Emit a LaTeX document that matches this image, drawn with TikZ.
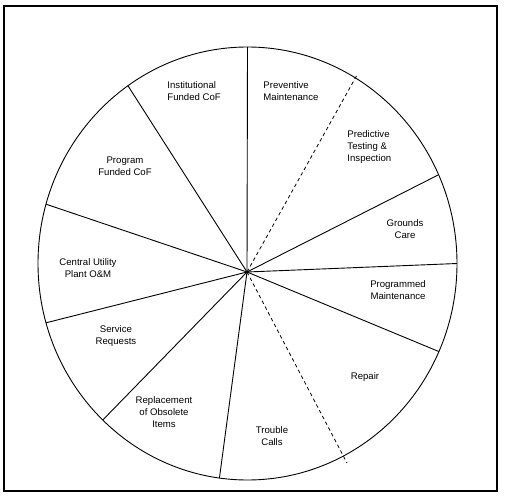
\documentclass[tikz,border=0pt]{standalone}
\usepackage{fontspec}
\setmainfont{Liberation Sans}
\usetikzlibrary{calc}
\begin{document}
\begin{tikzpicture}[x=1pt,y=1pt,
  line width=0.9pt,
  lbl/.style={font=\fontsize{9.6}{12}\selectfont, inner sep=0pt, align=center},
  lbll/.style={font=\fontsize{9.6}{12}\selectfont, inner sep=0pt, align=left, anchor=west},
  spoke/.style={line width=0.9pt},
  dspoke/.style={line width=0.8pt, dash pattern=on 3.5pt off 3pt}]
\useasboundingbox (0,0) rectangle (508,501);
\draw[line width=1.2pt] (4,10) rectangle (497,495);
\coordinate (E) at (247.5,237.5);
\coordinate (O) at (247,229);
\draw (E) ellipse [x radius=209.5, y radius=216.5];
\coordinate (p1) at ($(E)+(90:209.5 and 216.5)$);
\coordinate (p3) at ($(E)+(24.2:209.5 and 216.5)$);
\coordinate (p4) at ($(E)+(0:209.5 and 216.5)$);
\coordinate (p5) at ($(E)+(-24:209.5 and 216.5)$);
\coordinate (p7) at ($(E)+(262.3:209.5 and 216.5)$);
\coordinate (p8) at ($(E)+(226.3:209.5 and 216.5)$);
\coordinate (p9) at ($(E)+(195.9:209.5 and 216.5)$);
\coordinate (p10) at ($(E)+(164.1:209.5 and 216.5)$);
\coordinate (p11) at ($(E)+(124.8:209.5 and 216.5)$);
\coordinate (d1) at (357,426);
\coordinate (d2) at (347,38);
\foreach \p in {p1,p3,p4,p5,p7,p8,p9,p10,p11} \draw[spoke] (O) -- (\p);
\draw[dspoke] (O) -- (d1);
\draw[dspoke] (O) -- (d2);
\node[lbll] (inst) at (167,409.5) {Institutional\\Funded CoF};
\node[lbll] (prev) at (263,409.5) {Preventive\\Maintenance};
\node[lbll] (pred) at (347,354) {Predictive\\Testing \&\\Inspection};
\node[lbl] (grnd) at (405,272) {Grounds\\Care};
\node[lbl] (prog) at (398,211) {Programmed\\Maintenance};
\node[lbl] (rep) at (365,124) {Repair};
\node[lbl] (trbl) at (272,65) {Trouble\\Calls};
\node[lbl] (repl) at (164,89) {Replacement\\of Obsolete\\Items};
\node[lbl] (serv) at (116,165) {Service\\Requests};
\node[lbl] (cup) at (88,233) {Central Utility\\Plant O\&M};
\node[lbl] (pfc) at (125,335) {Program\\Funded CoF};
\end{tikzpicture}
\end{document}
